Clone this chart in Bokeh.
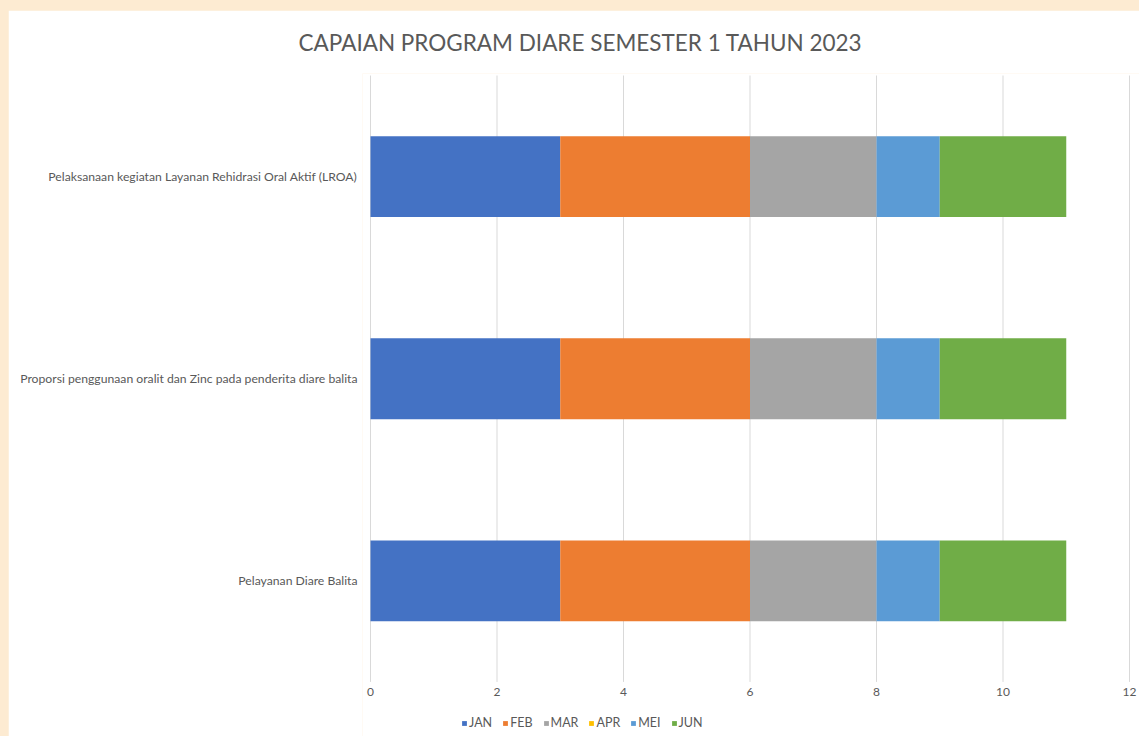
from bokeh.plotting import figure
from bokeh.models import Range1d, Legend, LegendItem, FixedTicker
from bokeh.embed import file_html
from bokeh.resources import INLINE

categories = [
    "Pelayanan Diare Balita",
    "Proporsi penggunaan oralit dan Zinc pada penderita diare balita",
    "Pelaksanaan kegiatan Layanan Rehidrasi Oral Aktif (LROA)",
]
months = ["JAN", "FEB", "MAR", "APR", "MEI", "JUN"]
JAN = [3, 3, 3]
FEB = [3, 3, 3]
MAR = [2, 2, 2]
APR = [0, 0, 0]
MEI = [1, 1, 1]
JUN = [2, 2, 2]
colors = ["#4472C4", "#ED7D31", "#A5A5A5", "#FFC000", "#5B9BD5", "#70AD47"]
x_ticks = [0, 2, 4, 6, 8, 10, 12]
title_text = "CAPAIAN PROGRAM DIARE SEMESTER 1 TAHUN 2023"

FONT = "Lato"
GRAY = "#595959"

n = len(categories)
pos = [i + 0.5 for i in range(n)]
data = {"pos": pos, "cat": categories, "JAN": JAN, "FEB": FEB, "MAR": MAR, "APR": APR, "MEI": MEI, "JUN": JUN}

p = figure(
    width=1131, height=726,
    y_range=Range1d(-0.27, n + 0.01),
    x_range=Range1d(-0.1265, 12.158),
    output_backend="svg", toolbar_location=None,
    min_border_left=354, min_border_right=0, min_border_top=62, min_border_bottom=0,
)
p.border_fill_color = "white"
p.background_fill_color = "white"
p.outline_line_color = None
p.xgrid.grid_line_color = None
p.ygrid.grid_line_color = None

# vertical grid lines over the category band only
p.segment(x0=x_ticks, x1=x_ticks, y0=[0] * len(x_ticks), y1=[n] * len(x_ticks),
          line_color="#d9d9d9", line_width=1)

renderers = p.hbar_stack(months, y="pos", height=0.4, color=colors, source=data,
                         line_width=0, line_color=None)

p.xaxis.fixed_location = 0
p.xaxis.ticker = FixedTicker(ticks=x_ticks)
p.xaxis.axis_line_color = None
p.xaxis.major_tick_line_color = None
p.xaxis.minor_tick_line_color = None
p.xaxis.major_tick_out = 0
p.xaxis.major_tick_in = 0
p.xaxis.major_label_text_font = FONT
p.xaxis.major_label_text_font_size = "12px"
p.xaxis.major_label_text_color = GRAY
p.xaxis.major_label_standoff = 6

p.yaxis.ticker = FixedTicker(ticks=pos)
p.yaxis.major_label_overrides = {v: c for v, c in zip(pos, categories)}
p.yaxis.axis_line_color = None
p.yaxis.major_tick_line_color = None
p.yaxis.minor_tick_line_color = None
p.yaxis.major_tick_out = 0
p.yaxis.major_tick_in = 0
p.yaxis.major_label_text_font = FONT
p.yaxis.major_label_text_font_size = "12.2px"
p.yaxis.major_label_text_color = GRAY
p.yaxis.major_label_standoff = 5

legend = Legend(
    items=[LegendItem(label=m, renderers=[r]) for m, r in zip(months, renderers)],
    location=(99, 6), orientation="horizontal",
    glyph_width=6, glyph_height=6, label_standoff=2, spacing=10,
    label_text_font=FONT, label_text_font_size="12.5px", label_text_color=GRAY,
    border_line_color=None, background_fill_alpha=0, padding=0, margin=0,
    label_height=12,
)
p.add_layout(legend, "center")

p.title.text = title_text
p.title.text_font = FONT
p.title.text_font_size = "22.5px"
p.title.text_font_style = "normal"
p.title.text_color = GRAY
p.title.align = "left"
p.title.offset = -64
p.title.vertical_align = "middle"
p.title.standoff = 34

html = file_html(p, INLINE)
head, sep, tail = html.rpartition("<body>")
html = head + '<body style="background:#fdebd2;padding:10px 0 0 8px;">' + tail
open("out.html", "w").write(html)
